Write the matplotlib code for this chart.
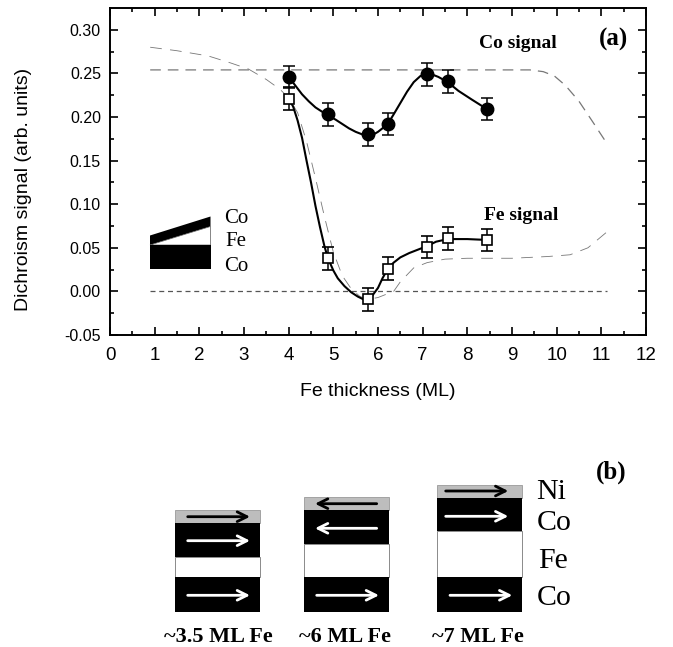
import matplotlib
matplotlib.use('Agg')
import matplotlib.pyplot as plt
from matplotlib.patches import Rectangle, Polygon

plt.rcParams['font.family'] = ['Liberation Sans', 'DejaVu Sans']
SERIF = 'Liberation Serif'

# puntos medidos
espesor = [4.0, 4.88, 5.77, 6.22, 7.1, 7.56, 8.44]
co_signal = [0.246, 0.203, 0.180, 0.192, 0.249, 0.241, 0.209]
fe_signal = [0.221, 0.038, -0.009, 0.026, 0.051, 0.061, 0.059]
error_co = [0.013, 0.013, 0.013, 0.013, 0.013, 0.013, 0.013]
error_fe = [0.013, 0.013, 0.013, 0.013, 0.013, 0.013, 0.013]

# curvas solidas
co_curva_x = [4.0, 4.15, 4.3, 4.45, 4.6, 4.75, 4.88, 5.05, 5.2, 5.35, 5.5, 5.65, 5.77, 5.9, 6.0, 6.1, 6.22,
              6.35, 6.5, 6.65, 6.8, 6.95, 7.1, 7.2, 7.35, 7.56, 7.8, 8.1, 8.44]
co_curva_y = [0.246, 0.236, 0.226, 0.218, 0.211, 0.206, 0.202, 0.197, 0.192, 0.187, 0.183, 0.180, 0.179, 0.180,
              0.183, 0.187, 0.192, 0.203, 0.216, 0.229, 0.240, 0.247, 0.250, 0.249, 0.246, 0.240, 0.230, 0.220, 0.209]
fe_curva_x = [4.0, 4.1, 4.2, 4.3, 4.4, 4.5, 4.6, 4.7, 4.8, 4.88, 5.0, 5.1, 5.25, 5.4, 5.55, 5.67, 5.77, 5.87,
              6.0, 6.1, 6.22, 6.35, 6.5, 6.7, 6.9, 7.1, 7.3, 7.56, 8.0, 8.44]
fe_curva_y = [0.221, 0.212, 0.196, 0.176, 0.150, 0.125, 0.098, 0.074, 0.052, 0.038, 0.024, 0.015, 0.006, -0.001,
              -0.006, -0.009, -0.009, -0.005, 0.004, 0.015, 0.026, 0.033, 0.039, 0.044, 0.048, 0.052, 0.057, 0.060,
              0.060, 0.059]

# curvas de trazos (simulacion)
sim_co_x = [0.9, 2.0, 3.0, 4.0, 5.0, 6.0, 7.0, 8.0, 9.0, 9.4, 9.7, 9.95, 10.2, 10.5, 10.8, 11.12]
sim_co_y = [0.254, 0.254, 0.254, 0.254, 0.254, 0.254, 0.254, 0.254, 0.254, 0.254, 0.252, 0.247, 0.236, 0.218,
            0.195, 0.170]
sim_fe_x = [0.9, 1.5, 2.2, 2.7, 3.1, 3.5, 3.8, 4.0, 4.2, 4.4, 4.6, 4.8, 5.0, 5.2, 5.4, 5.6, 5.8, 6.0, 6.2, 6.35,
            6.5, 6.8, 7.1, 7.5, 8.0, 9.0, 9.8, 10.3, 10.7, 11.12]
sim_fe_y = [0.280, 0.276, 0.270, 0.262, 0.255, 0.243, 0.232, 0.222, 0.205, 0.172, 0.130, 0.086, 0.045, 0.018,
            0.003, -0.006, -0.009, -0.007, -0.003, 0.000, 0.011, 0.027, 0.033, 0.037, 0.038, 0.038, 0.040, 0.042,
            0.050, 0.068]
cero_x = [0.9, 11.12]
cero_y = [0, 0]

xticks = list(range(0, 13))
yticks = [-0.05, 0.00, 0.05, 0.10, 0.15, 0.20, 0.25, 0.30]

fig = plt.figure(figsize=(6.73, 6.47), dpi=100)
W, H = 673, 647
ax = fig.add_axes([110 / W, 1 - 335 / H, 536 / W, 327 / H])

ax.plot(sim_co_x, sim_co_y, color='#777777', lw=0.9, dashes=(8.5, 5.6))
ax.plot(sim_fe_x, sim_fe_y, color='#777777', lw=0.6, dashes=(14, 10))
ax.plot(cero_x, cero_y, color='#555555', lw=0.9, dashes=(4, 3))
ax.plot(co_curva_x, co_curva_y, color='black', lw=1.5)
ax.plot(fe_curva_x, fe_curva_y, color='black', lw=1.5)
ax.errorbar(espesor, co_signal, yerr=error_co, fmt='o', color='black', ms=9, capsize=4.5, elinewidth=1.1,
            capthick=1.1, zorder=4)
ax.errorbar(espesor, fe_signal, yerr=error_fe, fmt='s', mfc='white', mec='black', mew=1.2, ecolor='black', ms=7.5,
            capsize=4.5, elinewidth=1.1, capthick=1.1, zorder=4)

ax.set_xlim(0, 12)
ax.set_ylim(-0.05, 0.325)
ax.set_xticks(xticks)
ax.set_xticks([i + 0.5 for i in range(12)], minor=True)
ax.set_yticks(yticks)
ax.set_yticklabels(['%.2f' % v for v in yticks])
ax.set_yticks([-0.025 + 0.05 * i for i in range(7)], minor=True)
ax.tick_params(which='major', direction='in', length=6, width=1.2, top=True, right=True)
ax.tick_params(which='minor', direction='in', length=3, width=1.2, top=True, right=True)
ax.tick_params(axis='x', which='major', labelsize=13.5, pad=9)
ax.tick_params(axis='y', which='major', labelsize=11.5, pad=6.5)
for s in ax.spines.values():
    s.set_linewidth(1.4)
ax.set_xlabel('Fe thickness (ML)', fontsize=14)
ax.xaxis.set_label_coords(0.5, -0.147)
ax.set_ylabel('Dichroism signal (arb. units)', fontsize=14)
ax.yaxis.set_label_coords(-0.1455, 0.446)

# capa en pixeles para esquemas y textos
lay = fig.add_axes([0, 0, 1, 1], facecolor='none')
lay.set_xlim(0, W)
lay.set_ylim(H, 0)
lay.axis('off')


def txt(x, y, s, size, bold=False, ha='center'):
    lay.text(x, y + 2, s, fontsize=size, family=SERIF, fontweight='bold' if bold else 'normal', ha=ha, va='center')


txt(517.5, 42, 'Co signal', 14, True)
txt(521.5, 213, 'Fe signal', 14, True)
txt(614, 37, '(a)', 18, True)
txt(611, 470, '(b)', 18, True)

# cuña del inset
lay.add_patch(Polygon([(150, 235.5), (210.5, 216.5), (210.5, 226.5), (150, 245)], fc='black', ec='none'))
lay.add_patch(Polygon([(150, 245), (210.5, 226.5), (210.5, 245)], fc='white', ec='#555555', lw=0.5))
lay.add_patch(Rectangle((150, 245), 60.5, 23.5, fc='black', ec='none'))
txt(236, 216.5, 'Co', 15)
txt(236, 240, 'Fe', 15)
txt(236, 264.5, 'Co', 15)


def flecha(x0, x1, y, color):
    lay.annotate('', xy=(x1, y), xytext=(x0, y),
                 arrowprops=dict(arrowstyle='->,head_length=0.7,head_width=0.35', color=color, lw=2,
                                 shrinkA=0, shrinkB=0))


def pila(x0, x1, ni_top, co_top, fe_top):
    lay.add_patch(Rectangle((x0, ni_top), x1 - x0, co_top - ni_top, fc='#bdbdbd', ec='#999999', lw=0.6))
    lay.add_patch(Rectangle((x0, co_top), x1 - x0, fe_top - co_top, fc='black', ec='none'))
    lay.add_patch(Rectangle((x0, fe_top), x1 - x0, 577.3 - fe_top, fc='white', ec='#777777', lw=0.6))
    lay.add_patch(Rectangle((x0, 577.3), x1 - x0, 34.4, fc='black', ec='none'))


pila(175, 260, 509.5, 522.7, 556.7)
flecha(187.7, 250, 516.7, 'black')
flecha(187.7, 250, 540.7, 'white')
flecha(187.7, 250, 595.3, 'white')

pila(304.3, 389, 497.3, 510, 544)
flecha(376.7, 315, 503.7, 'black')
flecha(376.7, 315, 528.3, 'white')
flecha(316.7, 379, 595.3, 'white')

pila(437.3, 521.7, 485.3, 498.3, 531.3)
flecha(445.7, 508.3, 491, 'black')
flecha(445.7, 508.3, 516.3, 'white')
flecha(450, 512.3, 595.3, 'white')

txt(536.5, 490, 'Ni', 21.5, ha='left')
txt(536.5, 521, 'Co', 21.5, ha='left')
txt(538, 559, 'Fe', 21.5, ha='left')
txt(536.5, 596, 'Co', 21.5, ha='left')

txt(218, 635, '~3.5 ML Fe', 16, True)
txt(345, 635, '~6 ML Fe', 16, True)
txt(478, 635, '~7 ML Fe', 16, True)

fig.savefig('out.png', dpi=100)
